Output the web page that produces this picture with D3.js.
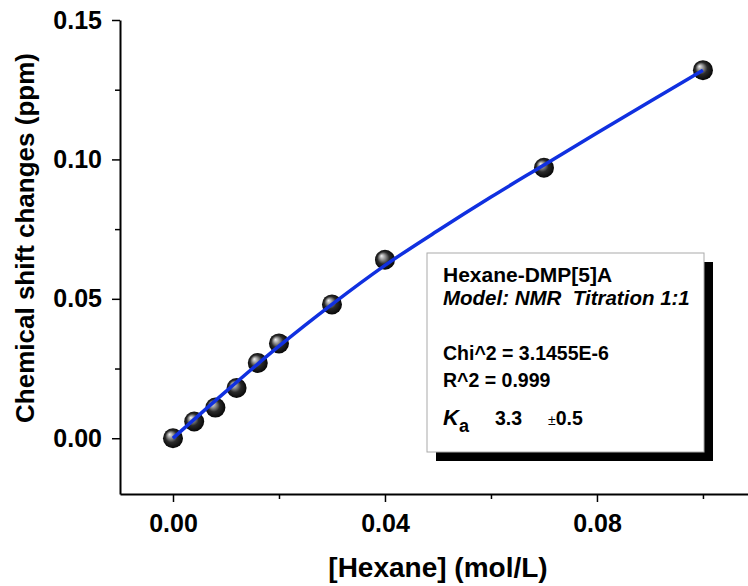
<!DOCTYPE html>
<html>
<head>
<meta charset="utf-8">
<script src="https://cdn.jsdelivr.net/npm/d3@7"></script>
<style>
  body { margin: 0; background: #fff; }
  text { font-family: "Liberation Sans", Arial, sans-serif; }
</style>
</head>
<body>
<div id="chart"></div>
<script>
// measured points
const conc = [0, 0.004, 0.008, 0.012, 0.016, 0.02, 0.03, 0.04, 0.07, 0.1];
const shift = [0, 0.006, 0.011, 0.018, 0.027, 0.034, 0.048, 0.064, 0.097, 0.132];

// fitted curve
const fitConc = [0, 0.01, 0.02, 0.03, 0.04, 0.05, 0.06, 0.07, 0.08, 0.09, 0.1];
const fitShift = [0, 0.0168, 0.0330, 0.0480, 0.0620, 0.0745, 0.0865, 0.0980, 0.1095, 0.1208, 0.1320];

const xMajor = [0, 0.04, 0.08];
const xMinor = [0.02, 0.06, 0.1];
const yMajor = [0, 0.05, 0.1, 0.15];
const yMinor = [0.025, 0.075, 0.125];

const width = 748, height = 586;

var svg = d3.select("#chart")
    .append("svg")
    .attr('width', width)
    .attr('height', height);

var x = d3.scaleLinear()
    .domain([-0.01, 0.1085])
    .range([120, 748]);

var y = d3.scaleLinear()
    .domain([-0.02, 0.15])
    .range([494, 20]);

// sphere look for the markers
var grad = svg.append('defs').append('radialGradient')
    .attr('id', 'ball')
    .attr('cx', '50%').attr('cy', '50%').attr('r', '55%')
    .attr('fx', '32%').attr('fy', '30%');
grad.append('stop').attr('offset', '0%').attr('stop-color', '#f2f2f2');
grad.append('stop').attr('offset', '25%').attr('stop-color', '#9a9a9a');
grad.append('stop').attr('offset', '55%').attr('stop-color', '#2a2a2a');
grad.append('stop').attr('offset', '100%').attr('stop-color', '#000');

// axes
svg.append('g')
    .attr('transform', `translate(${x.range()[0]},0)`)
    .call(d3.axisLeft(y).tickValues(yMajor).tickSize(8).tickSizeOuter(0)
        .tickPadding(10).tickFormat(d3.format('.2f')));
svg.append('g')
    .attr('transform', `translate(${x.range()[0]},0)`)
    .call(d3.axisLeft(y).tickValues(yMinor).tickSize(5).tickFormat(''))
    .select('.domain').remove();

svg.append('g')
    .attr('transform', `translate(0,${y.range()[0]})`)
    .call(d3.axisBottom(x).tickValues(xMajor).tickSize(8).tickSizeOuter(0)
        .tickPadding(12).tickFormat(d3.format('.2f')));
svg.append('g')
    .attr('transform', `translate(0,${y.range()[0]})`)
    .call(d3.axisBottom(x).tickValues(xMinor).tickSize(5).tickFormat(''))
    .select('.domain').remove();

svg.selectAll('.domain').attr('stroke', '#000').attr('stroke-width', 2);
svg.selectAll('.tick line').attr('stroke', '#000').attr('stroke-width', 1.5);
svg.selectAll('.tick text')
    .attr('fill', '#000')
    .style('font-family', '"Liberation Sans", Arial, sans-serif')
    .style('font-size', '25px')
    .style('font-weight', 'bold');

// axis titles
svg.append('text')
    .attr('transform', 'translate(34,238) rotate(-90)')
    .attr('text-anchor', 'middle')
    .style('font-size', '26px')
    .style('font-weight', 'bold')
    .text('Chemical shift changes (ppm)');

svg.append('text')
    .attr('x', 438)
    .attr('y', 577)
    .attr('text-anchor', 'middle')
    .style('font-size', '28px')
    .style('font-weight', 'bold')
    .text('[Hexane] (mol/L)');

// data markers
svg.append('g')
    .selectAll('circle')
    .data(conc)
    .enter().append('circle')
    .attr('cx', d => x(d))
    .attr('cy', (d, i) => y(shift[i]))
    .attr('r', 10)
    .style('fill', 'url(#ball)');

// fit line on top
var line = d3.line()
    .x(d => x(d))
    .y((d, i) => y(fitShift[i]))
    .curve(d3.curveMonotoneX);

svg.append('path')
    .datum(fitConc)
    .attr('d', line)
    .style('fill', 'none')
    .style('stroke', '#1030e0')
    .style('stroke-width', 3.5);

// fit results box
var box = svg.append('g').attr('transform', 'translate(427,253)');
box.append('rect')
    .attr('x', 9).attr('y', 9)
    .attr('width', 277).attr('height', 199)
    .style('fill', '#000');
box.append('rect')
    .attr('width', 277).attr('height', 199)
    .style('fill', '#fff')
    .style('stroke', '#aaa')
    .style('stroke-width', 1);

var boxText = box.append('g')
    .style('font-size', '19.5px')
    .style('font-weight', 'bold');
boxText.append('text').attr('x', 16).attr('y', 29)
    .style('font-size', '21px')
    .text('Hexane-DMP[5]A');
boxText.append('text').attr('x', 16).attr('y', 52)
    .style('font-size', '20.5px')
    .style('font-style', 'italic')
    .attr('xml:space', 'preserve')
    .text('Model: NMR  Titration 1:1');
boxText.append('text').attr('x', 16).attr('y', 107).text('Chi^2 = 3.1455E-6');
boxText.append('text').attr('x', 16).attr('y', 134).text('R^2 = 0.999');

var ka = boxText.append('text').attr('x', 16).attr('y', 172);
ka.append('tspan').style('font-style', 'italic').style('font-size', '22px').text('K');
ka.append('tspan').attr('dy', 7).style('font-size', '18px').text('a');
boxText.append('text').attr('x', 68).attr('y', 172).text('3.3');
var err = boxText.append('text').attr('x', 121).attr('y', 172);
err.append('tspan').style('font-size', '14px').style('font-weight', 'normal').text('±');
err.append('tspan').text('0.5');
</script>
</body>
</html>
